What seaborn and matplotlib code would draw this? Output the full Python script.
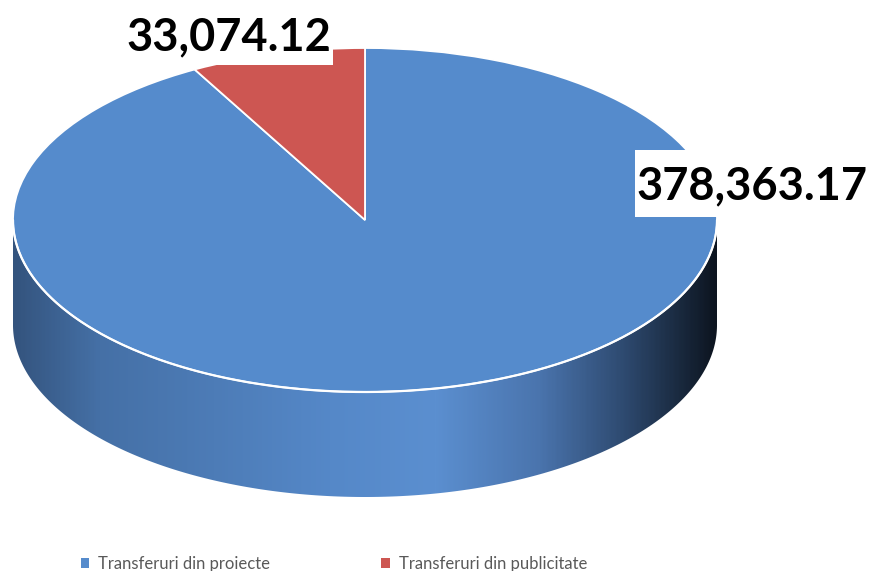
import numpy as np
import matplotlib
matplotlib.use("Agg")
import matplotlib.pyplot as plt
import seaborn as sns
from matplotlib.patches import Polygon, Rectangle
from matplotlib.colors import LinearSegmentedColormap

# ---- data ----
categories = ["Transferuri din proiecte", "Transferuri din publicitate"]
values = [378363.17, 33074.12]
value_labels = ["378,363.17", "33,074.12"]
colors = ["#558BCC", "#CD5652"]

sns.set_theme(style="white")
plt.rcParams["font.family"] = ["Lato", "DejaVu Sans"]

W, H = 870, 571
fig = plt.figure(figsize=(W / 100, H / 100), dpi=100)
ax = fig.add_axes([0, 0, 1, 1])

# geometry in pixels -> data units (unit circle squashed into an ellipse)
cx, cy, rx, ry = 365.0, 220.0, 352.0, 172.0
depth = 105.0 / ry

wedges, _ = ax.pie(values, colors=colors, startangle=90, counterclock=False,
                   radius=1.0, center=(0, 0),
                   wedgeprops=dict(edgecolor="white", linewidth=1.3, zorder=3))

ax.set_aspect("auto")
ax.set_xlim((0 - cx) / rx, (W - cx) / rx)
ax.set_ylim((cy - H) / ry, (cy - 0) / ry)
ax.set_axis_off()

# ---- side (front half) with gradient ----
t = np.linspace(np.pi, 2 * np.pi, 300)
top = np.column_stack([np.cos(t), np.sin(t)])
bot = np.column_stack([np.cos(t[::-1]), np.sin(t[::-1]) - depth])
side = Polygon(np.vstack([top, bot]), closed=True, facecolor="none",
               edgecolor="none", zorder=1)
ax.add_patch(side)
cmap = LinearSegmentedColormap.from_list("side", [
    (0.0, "#34547e"), (0.12, "#4570a6"), (0.45, "#5588c8"),
    (0.6, "#5b8fd0"), (0.75, "#4a74ad"), (0.87, "#2e4a70"), (1.0, "#0d1520")])
grad = np.linspace(0, 1, 400)[None, :]
im = ax.imshow(grad, cmap=cmap, aspect="auto", extent=(-1, 1, -1 - depth, 0.1),
               zorder=1, interpolation="bilinear")
im.set_clip_path(side)
ax.plot(np.cos(t), np.sin(t), color="white", lw=1.6, zorder=4)

# ---- value labels with white boxes ----
def px(x, y):
    return (x - cx) / rx, (cy - y) / ry

def white_box(x0, y0, x1, y1):
    (a, b), (c, d) = px(x0, y1), px(x1, y0)
    ax.add_patch(Rectangle((a, b), c - a, d - b, facecolor="white",
                           edgecolor="none", zorder=5))

white_box(635, 150, 872, 217)
white_box(118, -2, 333, 65)
ax.text(*px(751.5, 182.5), value_labels[0], ha="center", va="center_baseline",
        fontsize=32.5, fontweight="bold", color="black", zorder=6)
ax.text(*px(228.5, 33), value_labels[1], ha="center", va="center_baseline",
        fontsize=32.5, fontweight="bold", color="black", zorder=6)

# ---- legend ----
handles = [Rectangle((0, 0), 1, 1, facecolor=c, edgecolor="none") for c in colors]
leg = ax.legend(handles, categories, loc="center left", ncol=2, frameon=False,
                bbox_to_anchor=(66 / W, 1 - 564 / H), bbox_transform=fig.transFigure,
                handlelength=0.5, handleheight=0.5, handletextpad=0.55,
                columnspacing=6.65, fontsize=12)
for txt in leg.get_texts():
    txt.set_color("#595959")

fig.savefig("out.png", dpi=100, facecolor="white")
